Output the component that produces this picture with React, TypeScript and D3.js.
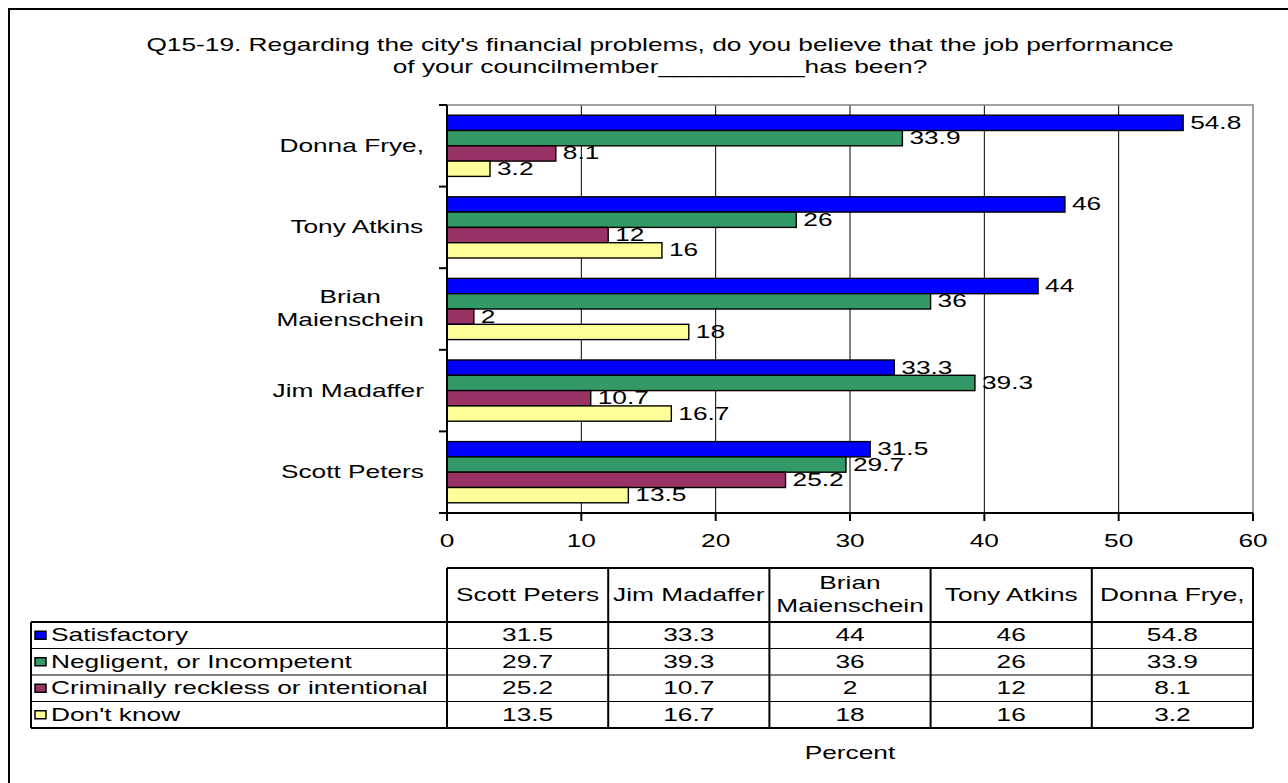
import React from "react";
import * as d3 from "d3";

const title = [
  "Q15-19. Regarding the city's financial problems, do you believe that the job performance",
  "of your councilmember__________has been?",
];
const categories = ["Donna Frye,", "Tony Atkins", "Brian Maienschein", "Jim Madaffer", "Scott Peters"];
const seriesNames = ["Satisfactory", "Negligent, or Incompetent", "Criminally reckless or intentional", "Don't know"];
const satisfactory = [54.8, 46, 44, 33.3, 31.5];
const negligent = [33.9, 26, 36, 39.3, 29.7];
const criminal = [8.1, 12, 2, 10.7, 25.2];
const dontKnow = [3.2, 16, 18, 16.7, 13.5];
const seriesColors = ["#0000FF", "#339966", "#993366", "#FFFF99"];
const xTicks = [0, 10, 20, 30, 40, 50, 60];
const xLabel = "Percent";

const FONT = "'Liberation Sans', Arial, Helvetica, sans-serif";
const FS = 18;
const SX = 1.46;

const W = 1288;
const H = 783;
const plot = { left: 447, right: 1253, top: 105, bottom: 513 };
const table = { left: 31, headTop: 568, headBottom: 622, rowH: 26.5 };

let ctx: CanvasRenderingContext2D | null = null;
function textWidth(s: string): number {
  if (!ctx) ctx = document.createElement("canvas").getContext("2d");
  if (!ctx) return s.length * FS * 0.5 * SX;
  ctx.font = `${FS}px ${FONT}`;
  return ctx.measureText(s).width * SX;
}
function wrap(s: string, maxW: number): string[] {
  if (textWidth(s) <= maxW) return [s];
  const words = s.split(" ");
  const lines: string[] = [];
  let cur = "";
  words.forEach((w) => {
    const t = cur ? cur + " " + w : w;
    if (cur && textWidth(t) > maxW) {
      lines.push(cur);
      cur = w;
    } else cur = t;
  });
  if (cur) lines.push(cur);
  return lines;
}

function T({ x, y, anchor = "middle", children }: { x: number; y: number; anchor?: string; children: React.ReactNode }) {
  return (
    <g transform={`translate(${x},${y}) scale(${SX},1)`}>
      <text textAnchor={anchor as any} dominantBaseline="central" fontFamily={FONT} fontSize={FS} fill="#000">
        {children}
      </text>
    </g>
  );
}

export default function App() {
  const series = [satisfactory, negligent, criminal, dontKnow];
  const x = d3.scaleLinear().domain([0, 60]).range([plot.left, plot.right]);
  const y = d3.scaleBand<string>().domain(categories).range([plot.top, plot.bottom]).paddingInner(0.25).paddingOuter(0.125);
  const ySub = d3.scaleBand<number>().domain(d3.range(series.length)).range([0, y.bandwidth()]).padding(0);
  const step = y.step();
  const boundaries = d3.range(categories.length + 1).map((i) => plot.top + i * step);

  const tableCats = categories.slice().reverse();
  const colW = (plot.right - plot.left) / tableCats.length;
  const colX = (i: number) => plot.left + i * colW;
  const rowY = (i: number) => table.headBottom + i * table.rowH;
  const tableBottom = rowY(seriesNames.length);
  const lineH = 23;

  return (
    <svg width={W} height={H} style={{ position: "absolute", left: 0, top: 0, background: "#fff" }}>
      <rect x={0} y={0} width={W} height={H} fill="#fff" />
      <rect x={9} y={9} width={W + 20} height={H + 20} fill="none" stroke="#000" strokeWidth={2} />

      {title.map((t, i) => (
        <T key={i} x={660} y={45 + i * 22}>{t}</T>
      ))}

      {/* gridlines */}
      {xTicks.slice(1, -1).map((t) => (
        <line key={t} x1={x(t)} x2={x(t)} y1={plot.top} y2={plot.bottom} stroke="#000" strokeWidth={1} />
      ))}
      <polyline
        points={`${plot.left},${plot.top} ${plot.right},${plot.top} ${plot.right},${plot.bottom}`}
        fill="none"
        stroke="#808080"
        strokeWidth={1.5}
      />

      {/* bars */}
      {categories.map((c, ci) => (
        <g key={c}>
          {series.map((s, si) => {
            const y0 = (y(c) as number) + (ySub(si) as number);
            const h = ySub.bandwidth();
            return (
              <g key={si}>
                <rect x={x(0)} y={y0} width={x(s[ci]) - x(0)} height={h} fill={seriesColors[si]} stroke="#000" strokeWidth={1.4} />
                <T x={x(s[ci]) + 7} y={y0 + h / 2} anchor="start">{String(s[ci])}</T>
              </g>
            );
          })}
        </g>
      ))}

      {/* axes */}
      <line x1={plot.left} x2={plot.left} y1={plot.top} y2={plot.bottom} stroke="#000" strokeWidth={2} />
      {boundaries.map((b, i) => (
        <line key={i} x1={plot.left - 8} x2={plot.left} y1={b} y2={b} stroke="#000" strokeWidth={2} />
      ))}
      <line x1={plot.left} x2={plot.right} y1={plot.bottom} y2={plot.bottom} stroke="#000" strokeWidth={2} />
      {xTicks.map((t) => (
        <g key={t}>
          <line x1={x(t)} x2={x(t)} y1={plot.bottom} y2={plot.bottom + 8} stroke="#000" strokeWidth={2} />
          <T x={x(t)} y={541}>{String(t)}</T>
        </g>
      ))}

      {/* category labels */}
      {categories.map((c) => {
        const lines = wrap(c, 170);
        const maxW = d3.max(lines, (l) => textWidth(l)) as number;
        const cy = (y(c) as number) + y.bandwidth() / 2;
        const cx = 424 - maxW / 2;
        return lines.map((l, li) => (
          <T key={c + li} x={cx} y={cy + (li - (lines.length - 1) / 2) * lineH}>{l}</T>
        ));
      })}

      {/* data table */}
      {tableCats.map((c, i) => {
        const lines = wrap(c, colW - 6);
        const cy = (table.headTop + table.headBottom) / 2;
        return lines.map((l, li) => (
          <T key={c + li} x={colX(i) + colW / 2} y={cy + (li - (lines.length - 1) / 2) * lineH}>{l}</T>
        ));
      })}
      {seriesNames.map((n, si) => {
        const cy = rowY(si) + table.rowH / 2;
        return (
          <g key={n}>
            <rect x={35} y={cy - 4} width={11} height={8} fill={seriesColors[si]} stroke="#000" strokeWidth={1.5} />
            <T x={51} y={cy} anchor="start">{n}</T>
            {tableCats.map((c, ci) => {
              const v = series[si][categories.indexOf(c)];
              return <T key={c} x={colX(ci) + colW / 2} y={cy}>{String(v)}</T>;
            })}
          </g>
        );
      })}
      {/* table lines */}
      {d3.range(1, seriesNames.length).map((i) => (
        <line key={i} x1={table.left} x2={plot.right} y1={rowY(i)} y2={rowY(i)} stroke="#000" strokeWidth={1} />
      ))}
      <line x1={plot.left} x2={plot.right} y1={table.headTop} y2={table.headTop} stroke="#000" strokeWidth={2} />
      <line x1={table.left} x2={plot.right} y1={table.headBottom} y2={table.headBottom} stroke="#000" strokeWidth={2} />
      <line x1={table.left} x2={plot.right} y1={tableBottom} y2={tableBottom} stroke="#000" strokeWidth={2} />
      <line x1={table.left} x2={table.left} y1={table.headBottom} y2={tableBottom} stroke="#000" strokeWidth={2} />
      {d3.range(tableCats.length + 1).map((i) => (
        <line key={i} x1={colX(i)} x2={colX(i)} y1={table.headTop} y2={tableBottom} stroke="#000" strokeWidth={2} />
      ))}

      <T x={(plot.left + plot.right) / 2} y={753}>{xLabel}</T>
    </svg>
  );
}
